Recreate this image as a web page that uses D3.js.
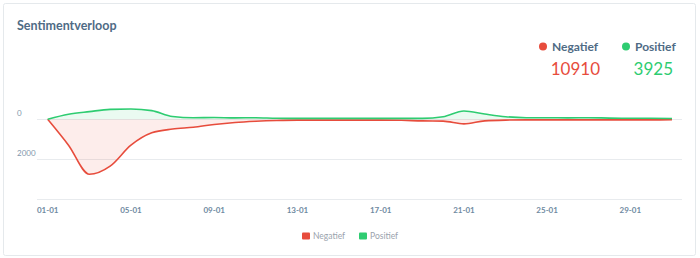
<!DOCTYPE html>
<html lang="nl">
<head>
<meta charset="utf-8">
<title>Sentimentverloop</title>
<script src="https://cdn.jsdelivr.net/npm/d3@7/dist/d3.min.js"></script>
<style>
  body { margin: 0; background: #fff; font-family: Lato, "Open Sans", sans-serif; }
  svg { display: block; }
</style>
</head>
<body>
<svg id="chart" width="700" height="258"></svg>
<script>
// days of January, shown as dd-01
const days = d3.range(1, 32).map(d => String(d).padStart(2, '0') + '-01');
const tickDays = ['01-01', '05-01', '09-01', '13-01', '17-01', '21-01', '25-01', '29-01'];

// negative mentions per day (plotted downwards)
const negatief = [0, 1300, 2760, 2350, 1300, 680, 490, 400, 260, 160, 100, 60, 40, 40, 40, 40, 40, 50, 80, 90, 230, 80, 40, 30, 30, 30, 30, 30, 30, 30, 20];
// positive mentions per day
const positief = [0, 250, 385, 500, 520, 435, 140, 80, 90, 70, 80, 50, 45, 45, 45, 45, 45, 45, 45, 130, 420, 265, 130, 80, 80, 70, 80, 60, 50, 50, 40];

const totals = [
  { name: 'Negatief', value: 10910, color: '#e74c3c' },
  { name: 'Positief', value: 3925, color: '#2ecc71' }
];
const yTicks = [0, -2000, -4000];

const svg = d3.select('#chart');

// card
svg.append('rect')
  .attr('x', 3.5).attr('y', 3.5).attr('width', 692).attr('height', 252)
  .attr('rx', 2).attr('fill', '#fff').attr('stroke', '#e5e9ec');

svg.append('text')
  .attr('x', 17).attr('y', 30)
  .attr('font-size', 12.5).attr('font-weight', 700).attr('fill', '#4f6b85')
  .text('Sentimentverloop');

// header totals
const head = svg.append('g');
const headX = [543, 626];
const numEnd = [600, 673];
totals.forEach((t, i) => {
  head.append('circle').attr('cx', headX[i]).attr('cy', 46.5).attr('r', 4).attr('fill', t.color);
  head.append('text').attr('x', headX[i] + 9).attr('y', 50.5)
    .attr('font-size', 12).attr('font-weight', 700).attr('fill', '#4f6b85').text(t.name);
  head.append('text').attr('x', numEnd[i]).attr('y', 74.5)
    .attr('text-anchor', 'end')
    .attr('font-size', 17).attr('fill', t.color).text(t.value);
});

const x = d3.scalePoint().domain(days).range([47.7, 672]);
const y = d3.scaleLinear().domain([-4000, 0]).range([199, 119.3]);

// grid + y labels
svg.append('g').selectAll('line').data(yTicks).join('line')
  .attr('x1', 37).attr('x2', 682)
  .attr('y1', d => Math.round(y(d)) + 0.5).attr('y2', d => Math.round(y(d)) + 0.5)
  .attr('stroke', '#e8ebee');

svg.append('g').selectAll('text').data(yTicks.slice(0, 2)).join('text')
  .attr('x', 17).attr('y', d => y(d) - 3.5)
  .attr('font-size', 8).attr('fill', '#7f97ac')
  .text(d => Math.abs(d));

// x axis labels
svg.append('g').selectAll('text').data(tickDays).join('text')
  .attr('x', d => x(d)).attr('y', 213)
  .attr('text-anchor', 'middle')
  .attr('font-size', 8).attr('font-weight', 700).attr('fill', '#6f8aa1')
  .text(d => d);

const series = [
  { name: 'Negatief', values: negatief.map(v => -v), color: '#e74c3c', fill: 'rgba(231,76,60,0.1)' },
  { name: 'Positief', values: positief, color: '#2ecc71', fill: 'rgba(46,204,113,0.1)' }
];

const curve = d3.curveMonotoneX;
series.forEach(s => {
  const pts = s.values.map((v, i) => [x(days[i]), y(v)]);
  svg.append('path')
    .attr('d', d3.area().x(d => d[0]).y0(y(0)).y1(d => d[1]).curve(curve)(pts))
    .attr('fill', s.fill);
});
series.forEach(s => {
  const pts = s.values.map((v, i) => [x(days[i]), y(v)]);
  svg.append('path')
    .attr('d', d3.line().curve(curve)(pts))
    .attr('fill', 'none').attr('stroke', s.color).attr('stroke-width', 1.6);
});

// bottom legend
const legX = [302, 359];
series.forEach((s, i) => {
  svg.append('rect').attr('x', legX[i]).attr('y', 232.5).attr('width', 8).attr('height', 7)
    .attr('rx', 1).attr('fill', s.color);
  svg.append('text').attr('x', legX[i] + 11).attr('y', 239)
    .attr('font-size', 8.5).attr('fill', '#9aa3ad').text(s.name);
});
</script>
</body>
</html>
